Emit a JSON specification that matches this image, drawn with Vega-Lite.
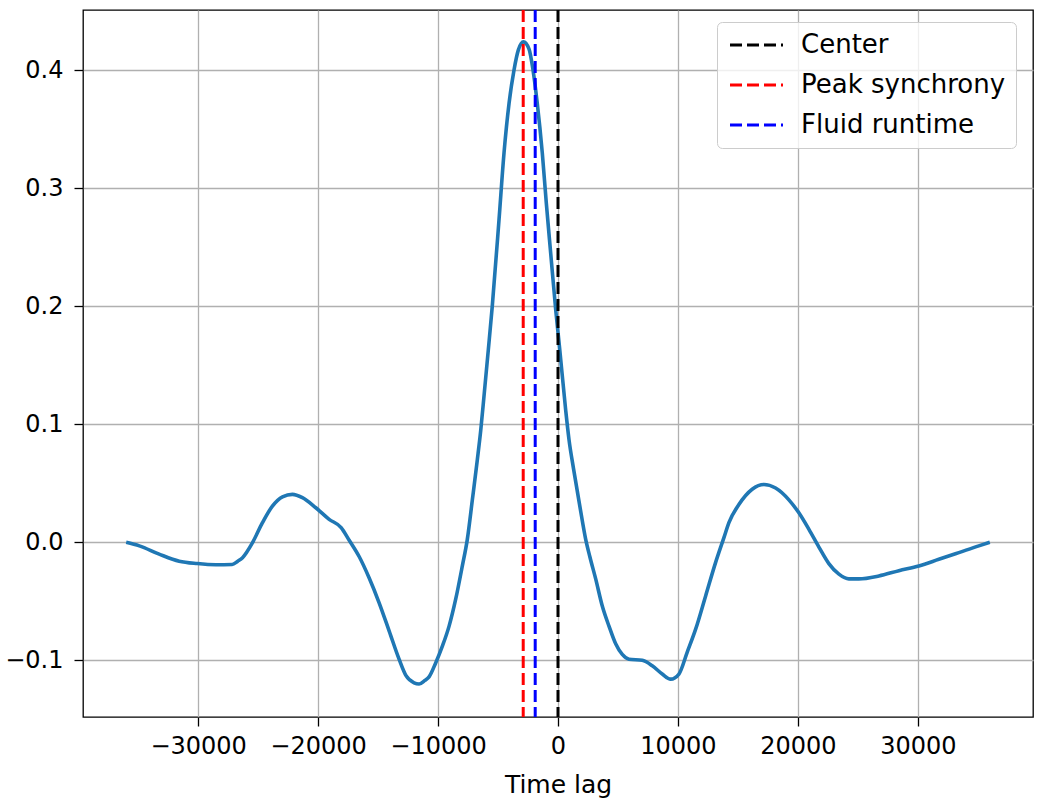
{
  "$schema": "https://vega.github.io/schema/vega-lite/v6.json",
  "width": 950,
  "height": 707,
  "autosize": {"type": "none"},
  "padding": {"left": 83, "top": 10, "right": 12, "bottom": 83},
  "background": "white",
  "config": {
    "view": {"stroke": "#000000", "strokeWidth": 1.3},
    "font": "DejaVu Sans",
    "axis": {
      "domain": false,
      "grid": true,
      "gridColor": "#b0b0b0",
      "gridWidth": 1.3,
      "tickColor": "#000000",
      "tickWidth": 1.3,
      "tickSize": 9,
      "labelFont": "DejaVu Sans",
      "labelFontSize": 24,
      "labelColor": "#000000",
      "titleFont": "DejaVu Sans",
      "titleFontSize": 25,
      "titleFontWeight": "normal",
      "titleColor": "#000000"
    },
    "legend": {
      "orient": "none",
      "legendX": 634,
      "legendY": 12,
      "fillColor": "rgba(255,255,255,0.8)",
      "strokeColor": "#cccccc",
      "cornerRadius": 5,
      "padding": 10,
      "symbolType": "M-1,0H4.3",
      "symbolSize": 400,
      "symbolStrokeWidth": 3,
      "symbolDash": [12, 5],
      "labelFont": "DejaVu Sans",
      "labelFontSize": 26,
      "labelColor": "#000000",
      "labelOffset": 48,
      "labelLimit": 400,
      "rowPadding": 14
    }
  },
  "datasets": {
    "curve": [
      {"lag": -36000, "corr": 0.000},
      {"lag": -34900, "corr": -0.003},
      {"lag": -33250, "corr": -0.010},
      {"lag": -31580, "corr": -0.016},
      {"lag": -30080, "corr": -0.018},
      {"lag": -28530, "corr": -0.019},
      {"lag": -27170, "corr": -0.0188},
      {"lag": -26700, "corr": -0.016},
      {"lag": -26300, "corr": -0.013},
      {"lag": -25470, "corr": -0.0003},
      {"lag": -24640, "corr": 0.0166},
      {"lag": -23810, "corr": 0.0307},
      {"lag": -22970, "corr": 0.0386},
      {"lag": -22140, "corr": 0.0406},
      {"lag": -21310, "corr": 0.0378},
      {"lag": -20190, "corr": 0.0293},
      {"lag": -19080, "corr": 0.0195},
      {"lag": -18080, "corr": 0.0125},
      {"lag": -17420, "corr": 0.002},
      {"lag": -16580, "corr": -0.012},
      {"lag": -15750, "corr": -0.030},
      {"lag": -14920, "corr": -0.051},
      {"lag": -14080, "corr": -0.075},
      {"lag": -13250, "corr": -0.099},
      {"lag": -12670, "corr": -0.113},
      {"lag": -12000, "corr": -0.119},
      {"lag": -11580, "corr": -0.120},
      {"lag": -11100, "corr": -0.117},
      {"lag": -10750, "corr": -0.114},
      {"lag": -10190, "corr": -0.102},
      {"lag": -9640, "corr": -0.088},
      {"lag": -9080, "corr": -0.071},
      {"lag": -8525, "corr": -0.048},
      {"lag": -7975, "corr": -0.020},
      {"lag": -7560, "corr": 0.0025},
      {"lag": -7140, "corr": 0.036},
      {"lag": -6725, "corr": 0.070},
      {"lag": -6440, "corr": 0.095},
      {"lag": -6150, "corr": 0.126},
      {"lag": -5810, "corr": 0.163},
      {"lag": -5480, "corr": 0.200},
      {"lag": -4920, "corr": 0.273},
      {"lag": -4500, "corr": 0.330},
      {"lag": -4080, "corr": 0.372},
      {"lag": -3670, "corr": 0.400},
      {"lag": -3310, "corr": 0.417},
      {"lag": -2880, "corr": 0.424},
      {"lag": -2420, "corr": 0.418},
      {"lag": -2080, "corr": 0.400},
      {"lag": -1730, "corr": 0.372},
      {"lag": -1310, "corr": 0.330},
      {"lag": -980, "corr": 0.288},
      {"lag": -610, "corr": 0.245},
      {"lag": -190, "corr": 0.197},
      {"lag": 130, "corr": 0.165},
      {"lag": 640, "corr": 0.112},
      {"lag": 917, "corr": 0.087},
      {"lag": 1300, "corr": 0.062},
      {"lag": 1830, "corr": 0.030},
      {"lag": 2300, "corr": 0.003},
      {"lag": 2650, "corr": -0.012},
      {"lag": 3142, "corr": -0.031},
      {"lag": 3692, "corr": -0.054},
      {"lag": 4250, "corr": -0.071},
      {"lag": 4808, "corr": -0.086},
      {"lag": 5358, "corr": -0.095},
      {"lag": 5917, "corr": -0.099},
      {"lag": 7025, "corr": -0.100},
      {"lag": 7858, "corr": -0.1046},
      {"lag": 8692, "corr": -0.1116},
      {"lag": 9392, "corr": -0.1159},
      {"lag": 10083, "corr": -0.1116},
      {"lag": 10775, "corr": -0.093},
      {"lag": 11475, "corr": -0.0736},
      {"lag": 12308, "corr": -0.0454},
      {"lag": 13142, "corr": -0.017},
      {"lag": 13833, "corr": 0.004},
      {"lag": 14250, "corr": 0.0167},
      {"lag": 15080, "corr": 0.032},
      {"lag": 16190, "corr": 0.045},
      {"lag": 17170, "corr": 0.049},
      {"lag": 18140, "corr": 0.046},
      {"lag": 19250, "corr": 0.036},
      {"lag": 20080, "corr": 0.025},
      {"lag": 20920, "corr": 0.011},
      {"lag": 21750, "corr": -0.004},
      {"lag": 22580, "corr": -0.018},
      {"lag": 23420, "corr": -0.027},
      {"lag": 24250, "corr": -0.031},
      {"lag": 25080, "corr": -0.031},
      {"lag": 26750, "corr": -0.0285},
      {"lag": 28420, "corr": -0.024},
      {"lag": 30080, "corr": -0.020},
      {"lag": 31750, "corr": -0.0144},
      {"lag": 33420, "corr": -0.0087},
      {"lag": 35080, "corr": -0.003},
      {"lag": 36000, "corr": 0.000}
    ],
    "markers": [
      {"name": "Center", "lag": 0},
      {"name": "Peak synchrony", "lag": -2900},
      {"name": "Fluid runtime", "lag": -1900}
    ]
  },
  "layer": [
    {
      "data": {"name": "curve"},
      "mark": {"type": "line", "color": "#1f77b4", "strokeWidth": 3.6, "interpolate": "monotone"},
      "encoding": {
        "x": {
          "field": "lag",
          "type": "quantitative",
          "scale": {"domain": [-39600, 39600], "nice": false, "zero": false},
          "axis": {
            "title": "Time lag",
            "values": [-30000, -20000, -10000, 0, 10000, 20000, 30000],
            "format": "d",
            "labelPadding": 8,
            "titlePadding": 14
          }
        },
        "y": {
          "field": "corr",
          "type": "quantitative",
          "scale": {"domain": [-0.148, 0.451], "nice": false, "zero": false},
          "axis": {
            "title": null,
            "values": [-0.1, 0, 0.1, 0.2, 0.3, 0.4],
            "format": ".1f",
            "labelPadding": 11
          }
        }
      }
    },
    {
      "data": {"name": "markers"},
      "mark": {"type": "rule", "strokeWidth": 3, "strokeDash": [12, 5]},
      "encoding": {
        "x": {"field": "lag", "type": "quantitative"},
        "color": {
          "field": "name",
          "type": "nominal",
          "scale": {
            "domain": ["Center", "Peak synchrony", "Fluid runtime"],
            "range": ["#000000", "#ff0000", "#0000ff"]
          },
          "legend": {"title": null}
        }
      }
    }
  ]
}
